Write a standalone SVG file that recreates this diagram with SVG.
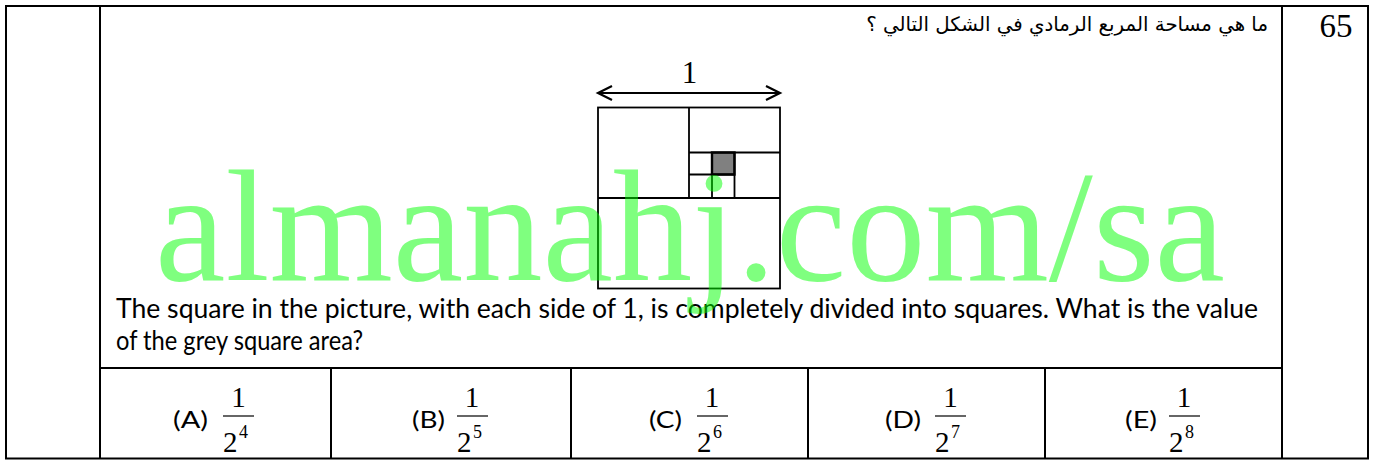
<svg xmlns="http://www.w3.org/2000/svg" width="1375" height="460" viewBox="0 0 1375 460">
<style>
.tl{stroke:#000;stroke-width:2;fill:none}
.fl{stroke:#000;stroke-width:1.8;fill:none}
.q{font-family:Lato,"Open Sans",sans-serif;font-size:26px;fill:#000}
.lab{font-family:Lato,"Open Sans",sans-serif;font-size:23px;fill:#000}
.num{font-family:"Liberation Serif","DejaVu Serif",serif;font-size:29px;fill:#000}
.sup{font-family:"Liberation Serif","DejaVu Serif",serif;font-size:18px;fill:#000}
.bar{stroke:#000;stroke-width:1.2}
</style>
<rect width="1375" height="460" fill="#fff"/>
<g id="table">
<path class="tl" d="M6,6H1368V458.5H6Z"/>
<path class="tl" d="M100,6V458.5M1282,6V458.5M100,368H1282M331,368V458.5M571,368V458.5M808,368V458.5M1045,368V458.5"/>
</g>
<g id="number">
<text x="1336" y="37" text-anchor="middle" font-family="Liberation Serif,serif" font-size="33">65</text>
</g>
<g id="arabic-question">
<text x="1268" y="31" direction="rtl" text-anchor="start" font-family="DejaVu Sans,sans-serif" font-size="19.8">ما هي مساحة المربع الرمادي في الشكل التالي ؟</text>
</g>
<g id="figure">
<text x="689.5" y="83" text-anchor="middle" font-family="Liberation Serif,serif" font-size="31">1</text>
<path d="M598,93H780M612,86L598,93L612,100M766,86L780,93L766,100" stroke="#000" stroke-width="2.2" fill="none"/>
<rect x="712" y="152.5" width="22.5" height="22" fill="#808080"/>
<rect class="fl" x="598" y="107.5" width="182" height="181"/>
<path class="fl" d="M689,107.5V198M598,198H780M689,152.5H780M734.5,152.5V198M712,152.5V198M689,174.5H734.5"/>
<rect x="712" y="152.5" width="22.5" height="22" fill="none" stroke="#000" stroke-width="2.4"/>
</g>
<g id="question-text">
<text class="q" x="116" y="318" textLength="1142" lengthAdjust="spacingAndGlyphs">The square in the picture, with each side of 1, is completely divided into squares. What is the value</text>
<text class="q" x="116" y="350" textLength="247" lengthAdjust="spacingAndGlyphs">of the grey square area?</text>
</g>
<g id="option-a">
<text class="lab" x="173" y="428" textLength="35" lengthAdjust="spacingAndGlyphs">(A)</text>
<text class="num" x="238.5" y="407" text-anchor="middle">1</text>
<line class="bar" x1="223" y1="416" x2="254" y2="416"/>
<text class="num" x="223" y="452">2</text><text class="sup" x="239" y="438">4</text>
</g>
<g id="option-b">
<text class="lab" x="412" y="428" textLength="33" lengthAdjust="spacingAndGlyphs">(B)</text>
<text class="num" x="472" y="407" text-anchor="middle">1</text>
<line class="bar" x1="457" y1="416" x2="488" y2="416"/>
<text class="num" x="457" y="452">2</text><text class="sup" x="473" y="438">5</text>
</g>
<g id="option-c">
<text class="lab" x="649" y="428" textLength="33" lengthAdjust="spacingAndGlyphs">(C)</text>
<text class="num" x="712" y="407" text-anchor="middle">1</text>
<line class="bar" x1="697" y1="416" x2="728" y2="416"/>
<text class="num" x="697" y="452">2</text><text class="sup" x="713" y="438">6</text>
</g>
<g id="option-d">
<text class="lab" x="885" y="428" textLength="36" lengthAdjust="spacingAndGlyphs">(D)</text>
<text class="num" x="950.5" y="407" text-anchor="middle">1</text>
<line class="bar" x1="935" y1="416" x2="966" y2="416"/>
<text class="num" x="935" y="452">2</text><text class="sup" x="951" y="438">7</text>
</g>
<g id="option-e">
<text class="lab" x="1125" y="428" textLength="32" lengthAdjust="spacingAndGlyphs">(E)</text>
<text class="num" x="1184" y="407" text-anchor="middle">1</text>
<line class="bar" x1="1169" y1="416" x2="1200" y2="416"/>
<text class="num" x="1169" y="452">2</text><text class="sup" x="1185" y="438">8</text>
</g>
<g id="watermark">
<text x="155" y="280" font-family="Liberation Serif,serif" font-size="158" fill="#00ff00" fill-opacity="0.5" textLength="1070" lengthAdjust="spacingAndGlyphs">almanahj.com/sa</text>
</g>
</svg>
